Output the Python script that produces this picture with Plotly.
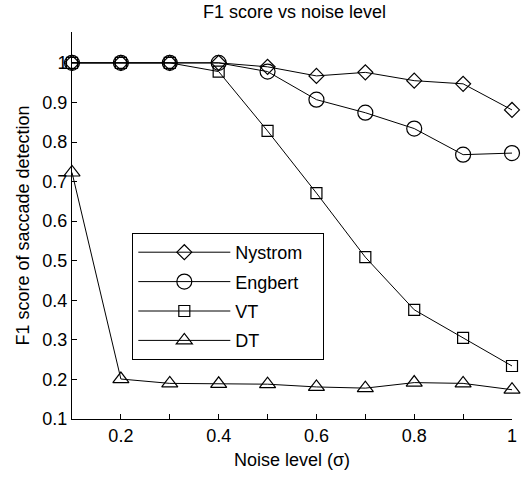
import plotly.graph_objects as go

noise = [0.1, 0.2, 0.3, 0.4, 0.5, 0.6, 0.7, 0.8, 0.9, 1.0]
nystrom = [1.0, 1.0, 1.0, 1.0, 0.99, 0.967, 0.976, 0.955, 0.947, 0.881]
engbert = [1.0, 1.0, 1.0, 1.0, 0.978, 0.907, 0.874, 0.834, 0.768, 0.772]
vt = [1.0, 1.0, 1.0, 0.978, 0.828, 0.671, 0.509, 0.376, 0.305, 0.234]
dt = [0.723, 0.201, 0.19, 0.189, 0.188, 0.181, 0.178, 0.192, 0.19, 0.174]

y_ticks = [0.1, 0.2, 0.3, 0.4, 0.5, 0.6, 0.7, 0.8, 0.9, 1.0]
y_ticktext = ["0.1", "0.2", "0.3", "0.4", "0.5", "0.6", "0.7", "0.8", "0.9", "1"]
x_ticks = [0.2, 0.3, 0.4, 0.5, 0.6, 0.7, 0.8, 0.9, 1.0]
x_ticktext = ["0.2", "", "0.4", "", "0.6", "", "0.8", "", "1"]

series = [
    ("Nystrom", nystrom, "diamond-open", 11.5),
    ("Engbert", engbert, "circle-open", 15),
    ("VT", vt, "square-open", 11),
    ("DT", dt, "triangle-up-open", 14),
]

pad = "\u00a0\u00a0\u00a0"

fig = go.Figure()
for name, vals, sym, sz in series:
    fig.add_trace(go.Scatter(
        x=noise, y=vals, name=name + pad, mode="lines+markers", legendgroup=name,
        line=dict(color="black", width=1),
        marker=dict(symbol=sym, size=sz, color="black", line=dict(width=1.2, color="black")),
        cliponaxis=False,
    ))

font = "Liberation Sans, Arial, sans-serif"
fig.update_layout(
    width=525, height=478,
    margin=dict(l=72, r=8, t=32, b=59),
    paper_bgcolor="white", plot_bgcolor="white",
    font=dict(family=font, size=18, color="black"),
    title=dict(text="F1 score vs noise level", x=(72 + 517) / 2 / 525, xanchor="center",
               y=1 - 12 / 478, yanchor="middle", font=dict(size=18)),
    showlegend=True,
    legend=dict(x=(133 - 72) / 445, y=(419 - 233) / 387, xanchor="left", yanchor="top",
                bordercolor="black", borderwidth=1, bgcolor="white",
                font=dict(size=18), itemwidth=92, tracegroupgap=3),
    xaxis=dict(range=[0.1, 1.0], tickvals=x_ticks, ticktext=x_ticktext,
               ticks="inside", ticklen=5, tickcolor="black", showline=True, linecolor="black",
               linewidth=1, showgrid=False, zeroline=False, mirror=False,
               tickfont=dict(size=18),
               title=dict(text="Noise level (σ)", font=dict(size=18), standoff=8)),
    yaxis=dict(range=[0.1, 1.078], tickvals=y_ticks, ticktext=y_ticktext,
               ticks="inside", ticklen=5, tickcolor="black", showline=True, linecolor="black",
               linewidth=1, showgrid=False, zeroline=False,
               tickfont=dict(size=18),
               title=dict(text="F1 score of saccade detection", font=dict(size=18), standoff=8)),
)

fig.write_html("out.html")
